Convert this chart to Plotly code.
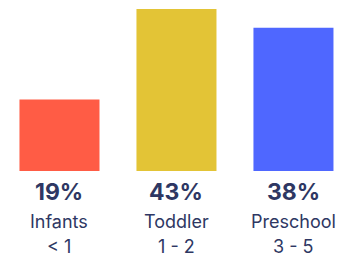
import plotly.graph_objects as go

categories = ["Infants", "Toddler", "Preschool"]
ages = ["< 1", "1 - 2", "3 - 5"]
values = [19, 43, 38]
colors = ["#FF5C45", "#E3C436", "#4F67FF"]

text_color = "#2E3763"
font_family = "Inter, Open Sans, sans-serif"

fig = go.Figure(go.Bar(x=[0, 1, 2], y=values, marker=dict(color=colors, line=dict(width=0)),
                       hoverinfo="skip"))

annotations = []
for i, (c, v, a) in enumerate(zip(categories, values, ages)):
    annotations.append(dict(x=i, y=0, xref="x", yref="y", text=f"<b>{v}%</b>", showarrow=False,
                            yanchor="middle", yshift=-21,
                            font=dict(family=font_family, size=23, color=text_color)))
    annotations.append(dict(x=i, y=0, xref="x", yref="y", text=c, showarrow=False,
                            yanchor="middle", yshift=-50,
                            font=dict(family=font_family, size=18, color=text_color)))
    annotations.append(dict(x=i, y=0, xref="x", yref="y", text=a, showarrow=False,
                            yanchor="middle", yshift=-75, height=16, borderpad=0,
                            font=dict(family=font_family, size=18, color=text_color)))

fig.update_layout(
    width=347, height=248,
    margin=dict(l=0, r=0, t=1, b=85),
    paper_bgcolor="white", plot_bgcolor="white",
    bargap=0.316,
    showlegend=False,
    xaxis=dict(visible=False, range=[-0.44, 2.526]),
    yaxis=dict(visible=False, range=[0, 43]),
    annotations=annotations,
)

fig.write_html("out.html")
